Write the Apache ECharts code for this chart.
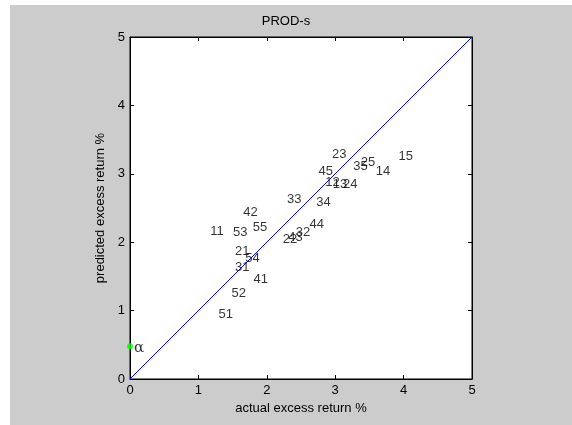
<!DOCTYPE html>
<html>
<head>
<meta charset="utf-8">
<script src="https://cdn.jsdelivr.net/npm/echarts@6/dist/echarts.min.js"></script>
<style>
html,body{margin:0;padding:0;background:#fff;}
#c{width:572px;height:425px;}
</style>
</head>
<body>
<div id="c"></div>
<script>
var titleText = 'PROD-s';
var xLabel = 'actual excess return %';
var yLabel = 'predicted excess return %';
var tickValues = [0, 1, 2, 3, 4, 5];
var portfolioNames = ['11','12','13','14','15','21','22','23','24','25','31','32','33','34','35','41','42','43','44','45','51','52','53','54','55'];
var actualReturn = [1.16,2.84,2.95,3.58,3.91,1.52,2.22,2.94,3.10,3.36,1.52,2.41,2.28,2.71,3.25,1.79,1.64,2.30,2.61,2.74,1.28,1.47,1.49,1.67,1.78];
var predictedReturn = [2.16,2.88,2.85,3.03,3.26,1.86,2.04,3.29,2.85,3.17,1.63,2.14,2.63,2.58,3.11,1.46,2.43,2.07,2.26,3.03,0.95,1.25,2.15,1.77,2.21];
var alphaPoint = [0, 0.48];
var diagonal = [[0,0],[5,5]];

var pts = portfolioNames.map(function(n,i){ return {name:n, value:[actualReturn[i], predictedReturn[i]]}; });
var font = 'Arial, "Liberation Sans", Helvetica, sans-serif';

var chart = echarts.init(document.getElementById('c'), null, {renderer:'canvas'});
var axisCommon = {
  type:'value', min:0, max:5, interval:1,
  axisLine:{show:true, onZero:false, lineStyle:{color:'#000', width:1}},
  axisTick:{show:true, inside:true, length:4, lineStyle:{color:'#000'}},
  splitLine:{show:false}
};
chart.setOption({
  animation:false,
  backgroundColor:'#ffffff',
  graphic:[{type:'rect', left:10, top:5, z:-10, shape:{width:562, height:420}, style:{fill:'#cccccc'}}],
  title:{text:titleText, left:'center', top:15, padding:0, itemGap:0,
    textStyle:{fontFamily:font, fontSize:13, fontWeight:'normal', color:'#000'}},
  grid:{left:130, top:37, width:342, height:342, show:true, backgroundColor:'#fff', borderColor:'#000', borderWidth:1},
  xAxis:[
    Object.assign({}, axisCommon, {position:'bottom', name:xLabel, nameLocation:'middle', nameGap:21,
      nameTextStyle:{fontFamily:font, fontSize:13, color:'#000'},
      axisLabel:{margin:5, fontFamily:font, fontSize:13, color:'#000'}}),
    Object.assign({}, axisCommon, {position:'top', axisLabel:{show:false}})
  ],
  yAxis:[
    Object.assign({}, axisCommon, {position:'left', name:yLabel, nameLocation:'middle', nameGap:18,
      nameTextStyle:{fontFamily:font, fontSize:13, color:'#000'},
      axisLabel:{margin:5, fontFamily:font, fontSize:13, color:'#000'}}),
    Object.assign({}, axisCommon, {position:'right', axisLabel:{show:false}})
  ],
  series:[
    {type:'line', data:diagonal, symbol:'none', lineStyle:{color:'#0000ff', width:1}, z:1},
    {type:'scatter', data:pts, symbolSize:0, z:3,
      label:{show:true, position:'right', distance:1, formatter:'{b}', fontFamily:font, fontSize:13, color:'#000'}},
    {type:'scatter', data:[{name:'α', value:alphaPoint}], symbol:'circle', symbolSize:6, z:4,
      itemStyle:{color:'#00ff00'},
      label:{show:true, position:'right', distance:1, offset:[0,2], formatter:'{b}', fontFamily:'"DejaVu Serif","Liberation Serif",serif', fontSize:15, color:'#000'}}
  ]
});
</script>
</body>
</html>
